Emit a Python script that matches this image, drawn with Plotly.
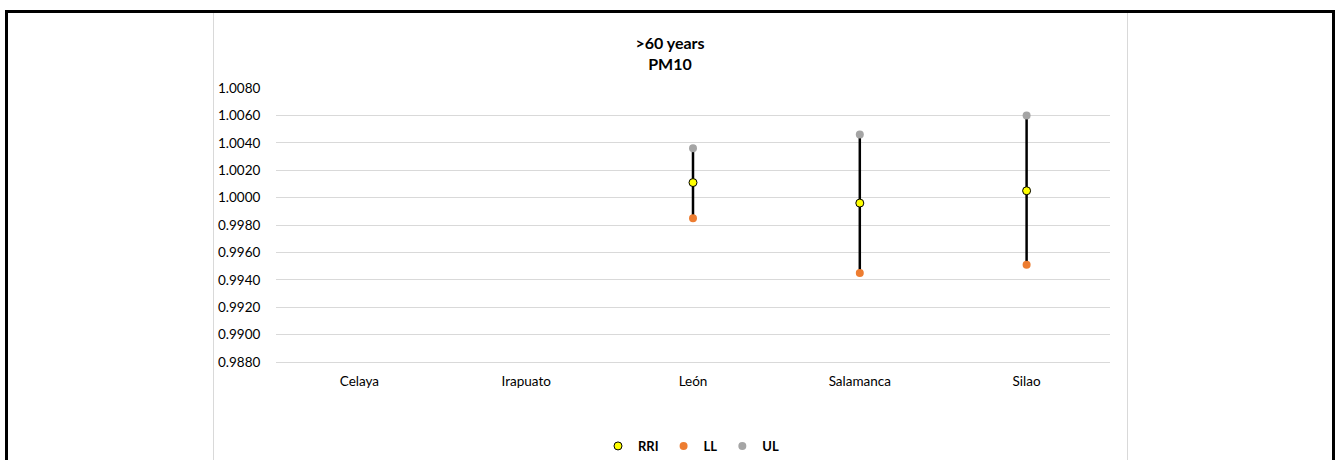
import plotly.graph_objects as go

cities = ["Celaya", "Irapuato", "León", "Salamanca", "Silao"]
rri = [None, None, 1.0011, 0.9996, 1.0005]
ll = [None, None, 0.9985, 0.9945, 0.9951]
ul = [None, None, 1.0036, 1.0046, 1.0060]
y_ticks = [0.9880, 0.9900, 0.9920, 0.9940, 0.9960, 0.9980, 1.0000,
           1.0020, 1.0040, 1.0060, 1.0080]

W, H = 1336, 460
ML, MR, MT, MB = 276, 226, 88, 98
PW, PH = W - ML - MR, H - MT - MB


def px(x):
    return (x - ML) / PW


def py(y):
    return (H - MB - y) / PH


FONT = "Lato, 'Open Sans', sans-serif"

# high-low lines
hx, hy = [], []
for c, lo, hi in zip(cities, ll, ul):
    if lo is not None and hi is not None:
        hx += [c, c, None]
        hy += [lo, hi, None]

fig = go.Figure()
fig.add_trace(go.Scatter(x=hx, y=hy, mode="lines", line=dict(color="black", width=2.5),
                         showlegend=False, hoverinfo="skip"))
fig.add_trace(go.Scatter(x=cities, y=rri, mode="markers", name="<b>RRI</b>",
                         marker=dict(color="#FFFF00", size=8, line=dict(color="black", width=1))))
fig.add_trace(go.Scatter(x=cities, y=ll, mode="markers", name="<b>LL</b>",
                         marker=dict(color="#ED7D31", size=8, line=dict(width=0))))
fig.add_trace(go.Scatter(x=cities, y=ul, mode="markers", name="<b>UL</b>",
                         marker=dict(color="#A5A5A5", size=8, line=dict(width=0))))

shapes = [
    dict(type="rect", xref="paper", yref="paper", x0=px(213.5), x1=px(1127.5),
         y0=py(475), y1=py(12.5), line=dict(color="#D9D9D9", width=1), layer="below"),
    dict(type="rect", xref="paper", yref="paper", x0=px(6.5), x1=px(1333.5),
         y0=py(480), y1=py(11.5), line=dict(color="black", width=3), layer="above"),
]

eps = 0.000004
fig.update_layout(
    width=W, height=H,
    margin=dict(l=ML, r=MR, t=MT, b=MB, autoexpand=False),
    paper_bgcolor="white", plot_bgcolor="white",
    font=dict(family=FONT, size=14, color="#000000"),
    title=dict(text="<b>>60 years<br>PM10</b>", x=670 / W, xref="container", xanchor="center",
               y=1 - 49 / H, yref="container", yanchor="top",
               font=dict(family=FONT, size=16, color="#000000")),
    xaxis=dict(type="category", categoryorder="array", categoryarray=cities,
               range=[-0.5, 4.5], showgrid=False, showline=True, linecolor="#D9D9D9",
               linewidth=1, ticks="outside", ticklen=7, tickcolor="rgba(0,0,0,0)",
               tickfont=dict(size=13.5), zeroline=False, fixedrange=True),
    yaxis=dict(range=[0.988 - eps, 1.008 + eps], tickvals=y_ticks, tickformat=".4f",
               showgrid=True, gridcolor="#D9D9D9", gridwidth=1, showline=False,
               ticks="outside", ticklen=12, tickcolor="rgba(0,0,0,0)",
               tickfont=dict(size=13.5), zeroline=False, fixedrange=True),
    legend=dict(orientation="h", x=px(691), xanchor="center", y=py(446), yanchor="middle",
                font=dict(family=FONT, size=13, color="#000000"), itemwidth=30,
                bgcolor="rgba(0,0,0,0)"),
    shapes=shapes,
    showlegend=True,
)

fig.write_html("out.html", config={"displayModeBar": False},
               post_script="document.body.style.margin='0';document.body.style.overflow='hidden';")
